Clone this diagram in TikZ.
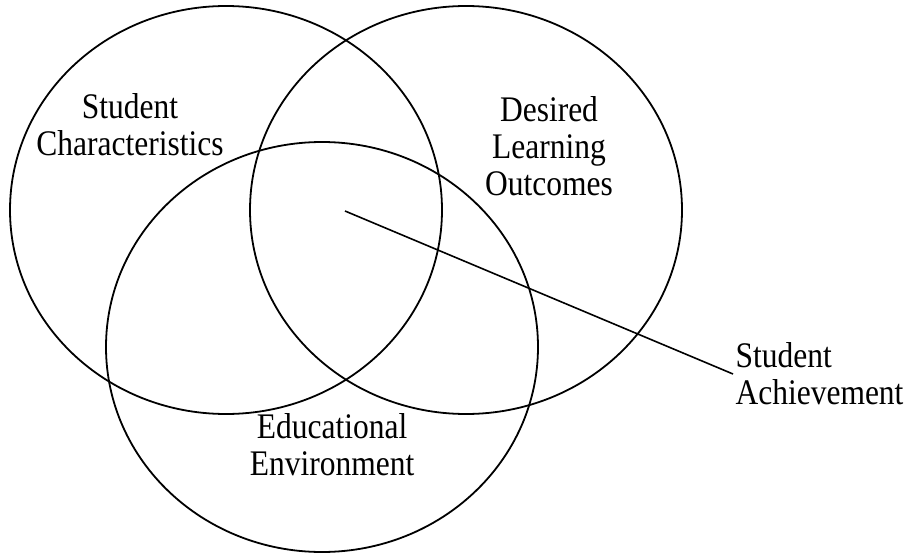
\documentclass[tikz,border=0pt]{standalone}
\usepackage{fontspec}
\setmainfont{Liberation Serif}
\begin{document}
\begin{tikzpicture}[x=1pt, y=-1pt, line width=1.8pt,
	every node/.style = {align=center, inner sep=2pt, xscale=0.875, transform shape,
		font=\fontsize{36}{37}\selectfont}]
	\useasboundingbox (0,0) rectangle (915,556);
	% the three circles
	\draw (226,210) ellipse [x radius=216pt, y radius=204pt];
	\draw (466,210) ellipse [x radius=216pt, y radius=204pt];
	\draw (322,347) ellipse [x radius=216pt, y radius=205pt];
	\node (chars) at (130,124.5) {Student\\Characteristics};
	\node (outcomes) at (549,146) {Desired\\Learning\\Outcomes};
	\node (environ) at (332,444.5) {Educational\\Environment};
	\node[anchor=west, align=left] (achieve) at (733,374) {Student\\Achievement};
	\coordinate (hub) at (345,211);
	\draw[line width=1.6pt] (hub) -- (achieve.west);
\end{tikzpicture}
\end{document}
